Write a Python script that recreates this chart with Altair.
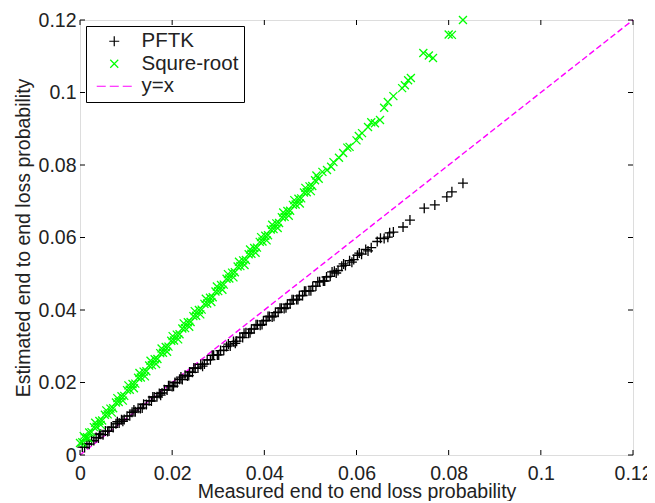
import altair as alt
import pandas as pd

# ---- data ----
pftk_x = [0.0005, 0.0010, 0.0015, 0.0020, 0.0025, 0.0030, 0.0035, 0.0040, 0.0045, 0.0050,
          0.0055, 0.0060, 0.0068, 0.0072, 0.0078, 0.0085, 0.0090, 0.0096, 0.0102, 0.0108,
          0.0113, 0.0120, 0.0126, 0.0131, 0.0138, 0.0144, 0.0150, 0.0155, 0.0161, 0.0167,
          0.0172, 0.0178, 0.0183, 0.0189, 0.0195, 0.0200, 0.0206, 0.0211, 0.0216, 0.0222,
          0.0228, 0.0233, 0.0238, 0.0244, 0.0250, 0.0256, 0.0262, 0.0270, 0.0276, 0.0283,
          0.0290, 0.0298, 0.0305, 0.0312, 0.0318, 0.0326, 0.0333, 0.0340, 0.0347, 0.0353,
          0.0360, 0.0366, 0.0372, 0.0378, 0.0385, 0.0391, 0.0398, 0.0404, 0.0411, 0.0417,
          0.0424, 0.0430, 0.0437, 0.0443, 0.0450, 0.0456, 0.0463, 0.0470, 0.0476, 0.0483,
          0.0490, 0.0497, 0.0505, 0.0512, 0.0520, 0.0528, 0.0535, 0.0543, 0.0552, 0.0560,
          0.0568, 0.0576, 0.0585, 0.0594, 0.0602, 0.0611, 0.0620, 0.0632, 0.0645, 0.0660,
          0.0672, 0.0680, 0.0701, 0.0716, 0.0747, 0.0770, 0.0796, 0.0807, 0.0831,
          0.0042, 0.0063, 0.0081, 0.0093, 0.0117, 0.0135, 0.0158, 0.0175, 0.0192, 0.0203,
          0.0219, 0.0236, 0.0247, 0.0266, 0.0287, 0.0301, 0.0322, 0.0337, 0.0356, 0.0369,
          0.0382, 0.0395, 0.0408, 0.0421, 0.0434, 0.0447, 0.0460, 0.0473, 0.0487, 0.0501,
          0.0516, 0.0531, 0.0547, 0.0556, 0.0572, 0.0590, 0.0606, 0.0625, 0.0652, 0.0668]
pftk_y = [0.0022, 0.0021, 0.0031, 0.0030, 0.0039, 0.0040, 0.0048, 0.0047, 0.0057, 0.0056,
          0.0066, 0.0065, 0.0077, 0.0076, 0.0086, 0.0088, 0.0097, 0.0098, 0.0107, 0.0108,
          0.0118, 0.0119, 0.0129, 0.0128, 0.0140, 0.0139, 0.0150, 0.0149, 0.0160, 0.0161,
          0.0170, 0.0171, 0.0180, 0.0179, 0.0191, 0.0189, 0.0200, 0.0199, 0.0209, 0.0208,
          0.0220, 0.0218, 0.0229, 0.0228, 0.0239, 0.0240, 0.0250, 0.0251, 0.0262, 0.0263,
          0.0275, 0.0276, 0.0288, 0.0289, 0.0299, 0.0301, 0.0313, 0.0314, 0.0325, 0.0324,
          0.0337, 0.0336, 0.0347, 0.0348, 0.0359, 0.0358, 0.0370, 0.0371, 0.0382, 0.0381,
          0.0393, 0.0394, 0.0405, 0.0404, 0.0416, 0.0417, 0.0428, 0.0429, 0.0439, 0.0440,
          0.0452, 0.0453, 0.0465, 0.0466, 0.0478, 0.0480, 0.0491, 0.0493, 0.0507, 0.0509,
          0.0521, 0.0523, 0.0536, 0.0539, 0.0551, 0.0554, 0.0567, 0.0572, 0.0589, 0.0597,
          0.0613, 0.0615, 0.0629, 0.0648, 0.0681, 0.0690, 0.0712, 0.0726, 0.0750,
          0.0058, 0.0066, 0.0092, 0.0093, 0.0124, 0.0130, 0.0160, 0.0165, 0.0191, 0.0190,
          0.0215, 0.0219, 0.0240, 0.0245, 0.0275, 0.0276, 0.0306, 0.0308, 0.0336, 0.0337,
          0.0359, 0.0360, 0.0382, 0.0383, 0.0405, 0.0406, 0.0428, 0.0429, 0.0452, 0.0453,
          0.0478, 0.0480, 0.0505, 0.0502, 0.0527, 0.0532, 0.0557, 0.0563, 0.0598, 0.0601]

sqrt_x = [0.0000, 0.0005, 0.0010, 0.0015, 0.0020, 0.0025, 0.0030, 0.0036, 0.0042, 0.0048,
          0.0054, 0.0060, 0.0066, 0.0072, 0.0078, 0.0084, 0.0090, 0.0096, 0.0102, 0.0108,
          0.0114, 0.0120, 0.0126, 0.0132, 0.0138, 0.0144, 0.0150, 0.0156, 0.0162, 0.0168,
          0.0174, 0.0180, 0.0186, 0.0192, 0.0198, 0.0204, 0.0210, 0.0216, 0.0222, 0.0228,
          0.0234, 0.0240, 0.0246, 0.0252, 0.0258, 0.0264, 0.0270, 0.0276, 0.0282, 0.0288,
          0.0294, 0.0300, 0.0306, 0.0312, 0.0318, 0.0324, 0.0330, 0.0336, 0.0342, 0.0348,
          0.0354, 0.0360, 0.0366, 0.0372, 0.0378, 0.0384, 0.0390, 0.0396, 0.0402, 0.0408,
          0.0414, 0.0420, 0.0426, 0.0432, 0.0438, 0.0444, 0.0450, 0.0456, 0.0462, 0.0468,
          0.0474, 0.0480, 0.0486, 0.0492, 0.0498, 0.0504, 0.0510, 0.0518, 0.0526, 0.0536,
          0.0550, 0.0562, 0.0571, 0.0585, 0.0600, 0.0612, 0.0625, 0.0640, 0.0651, 0.0668,
          0.0680, 0.0699, 0.0712, 0.0718, 0.0745, 0.0757, 0.0766, 0.0800, 0.0807, 0.0831,
          0.0008, 0.0018, 0.0033, 0.0045, 0.0057, 0.0069, 0.0081, 0.0093, 0.0105, 0.0117,
          0.0129, 0.0141, 0.0153, 0.0165, 0.0177, 0.0189, 0.0201, 0.0213, 0.0225, 0.0237,
          0.0249, 0.0261, 0.0273, 0.0285, 0.0297, 0.0309, 0.0321, 0.0333, 0.0345, 0.0357,
          0.0369, 0.0381, 0.0393, 0.0405, 0.0417, 0.0429, 0.0441, 0.0453, 0.0465, 0.0477,
          0.0489, 0.0501, 0.0513, 0.0545, 0.0580, 0.0605, 0.0632, 0.0660, 0.0705]
sqrt_y = [0.0033, 0.0035, 0.0048, 0.0049, 0.0062, 0.0063, 0.0077, 0.0078, 0.0094, 0.0095,
          0.0111, 0.0112, 0.0128, 0.0129, 0.0145, 0.0146, 0.0162, 0.0163, 0.0179, 0.0180,
          0.0196, 0.0197, 0.0213, 0.0214, 0.0230, 0.0231, 0.0247, 0.0248, 0.0264, 0.0265,
          0.0281, 0.0282, 0.0298, 0.0299, 0.0315, 0.0316, 0.0332, 0.0333, 0.0349, 0.0350,
          0.0366, 0.0367, 0.0383, 0.0384, 0.0400, 0.0401, 0.0417, 0.0418, 0.0434, 0.0435,
          0.0451, 0.0452, 0.0469, 0.0470, 0.0486, 0.0487, 0.0503, 0.0504, 0.0520, 0.0521,
          0.0537, 0.0538, 0.0554, 0.0555, 0.0571, 0.0572, 0.0588, 0.0589, 0.0605, 0.0606,
          0.0622, 0.0623, 0.0639, 0.0640, 0.0656, 0.0657, 0.0673, 0.0674, 0.0690, 0.0691,
          0.0707, 0.0708, 0.0724, 0.0725, 0.0741, 0.0742, 0.0758, 0.0762, 0.0781, 0.0786,
          0.0808, 0.0820, 0.0833, 0.0850, 0.0868, 0.0888, 0.0905, 0.0915, 0.0924, 0.0974,
          0.0990, 0.1012, 0.1034, 0.1040, 0.1109, 0.1102, 0.1095, 0.1160, 0.1159, 0.1200,
          0.0052, 0.0046, 0.0089, 0.0083, 0.0123, 0.0117, 0.0157, 0.0150, 0.0192, 0.0184,
          0.0226, 0.0217, 0.0260, 0.0251, 0.0294, 0.0285, 0.0328, 0.0319, 0.0363, 0.0354,
          0.0397, 0.0388, 0.0431, 0.0422, 0.0465, 0.0456, 0.0499, 0.0490, 0.0533, 0.0524,
          0.0567, 0.0558, 0.0601, 0.0592, 0.0635, 0.0626, 0.0669, 0.0660, 0.0703, 0.0694,
          0.0737, 0.0728, 0.0771, 0.0795, 0.0848, 0.0880, 0.0918, 0.0958, 0.1020]

ref_x = [0.0, 0.12]
ref_y = [0.0, 0.12]

tick_values = [0.0, 0.02, 0.04, 0.06, 0.08, 0.1, 0.12]
series_names = ["PFTK", "Squre-root", "y=x"]

# ---- tables ----
pts = pd.concat([
    pd.DataFrame({"x": pftk_x, "y": pftk_y, "series": "PFTK"}),
    pd.DataFrame({"x": sqrt_x, "y": sqrt_y, "series": "Squre-root"}),
], ignore_index=True)
ref = pd.DataFrame({"x": ref_x, "y": ref_y})
ticks = pd.DataFrame({"v": tick_values})

W, H = 553, 435
FONT = "Liberation Sans"
dom = [0, 0.12]

xs = alt.Scale(domain=dom, nice=False, zero=False)
ys = alt.Scale(domain=dom, nice=False, zero=False)

plus = "M-1,0L1,0M0,-1L0,1"
cross = "M-0.8,-0.8L0.8,0.8M-0.8,0.8L0.8,-0.8"
dash = "M-3.5,0L-1.7,0M-0.9,0L0.9,0M1.7,0L3.5,0"

color = alt.Color("series:N",
                  scale=alt.Scale(domain=series_names, range=["#000000", "#00ff00", "#ff00ff"]),
                  legend=alt.Legend(title=None, orient="top-left", offset=6,
                                    strokeColor="black", fillColor="white", padding=5,
                                    cornerRadius=0, labelFont=FONT, labelFontSize=20.5,
                                    labelColor="#222222", symbolSize=100, symbolStrokeWidth=1.2,
                                    symbolOffset=13, labelOffset=17, rowPadding=1.5,
                                    labelExpr="datum.label + '  '"))
shape = alt.Shape("series:N",
                  scale=alt.Scale(domain=series_names, range=[plus, cross, dash]),
                  legend=alt.Legend(title=None, orient="top-left"))

xaxis = alt.Axis(values=tick_values, ticks=False, grid=False, domain=False,
                 labelFont=FONT, labelFontSize=19.5, labelColor="#222222", labelPadding=9,
                 labelExpr="datum.value == 0 ? '0' : format(datum.value, '.2~f')",
                 labelFlush=False,
                 title="Measured end to end loss probability", titleFont=FONT,
                 titleFontSize=19.5, titleFontWeight="normal", titleColor="#222222",
                 titlePadding=0)
yaxis = alt.Axis(values=tick_values, ticks=False, grid=False, domain=False,
                 labelFont=FONT, labelFontSize=19.5, labelColor="#222222", labelPadding=4,
                 labelExpr="datum.value == 0 ? '0' : format(datum.value, '.2~f')",
                 labelFlush=False,
                 title="Estimated end to end loss probability", titleFont=FONT,
                 titleFontSize=19.5, titleFontWeight="normal", titleColor="#222222",
                 titlePadding=5)

line = alt.Chart(ref).mark_line(color="#ff00ff", strokeWidth=1.4, strokeDash=[6, 3]).encode(
    x=alt.X("x:Q", scale=xs, axis=xaxis),
    y=alt.Y("y:Q", scale=ys, axis=yaxis),
)

points = alt.Chart(pts).mark_point(filled=False, size=100, strokeWidth=1.3, opacity=1).encode(
    x=alt.X("x:Q", scale=xs),
    y=alt.Y("y:Q", scale=ys),
    color=color,
    shape=shape,
)

tl = 5
tick_bottom = alt.Chart(ticks).mark_rule(color="black", strokeWidth=1).encode(
    x=alt.X("v:Q", scale=xs), y=alt.value(H), y2=alt.value(H - tl))
tick_top = alt.Chart(ticks).mark_rule(color="black", strokeWidth=1).encode(
    x=alt.X("v:Q", scale=xs), y=alt.value(0), y2=alt.value(tl))
tick_left = alt.Chart(ticks).mark_rule(color="black", strokeWidth=1).encode(
    y=alt.Y("v:Q", scale=ys), x=alt.value(0), x2=alt.value(tl))
tick_right = alt.Chart(ticks).mark_rule(color="black", strokeWidth=1).encode(
    y=alt.Y("v:Q", scale=ys), x=alt.value(W), x2=alt.value(W - tl))

chart = alt.layer(line, points, tick_bottom, tick_top, tick_left, tick_right).properties(
    width=W, height=H,
    autosize=alt.AutoSizeParams(type="none"),
    padding={"left": 72, "top": 12, "right": 14, "bottom": 46},
).configure_view(
    stroke="black", strokeWidth=1.2, clip=True
).configure(background="white")

chart.save("out.html", embed_options={"renderer": "svg", "actions": False})
